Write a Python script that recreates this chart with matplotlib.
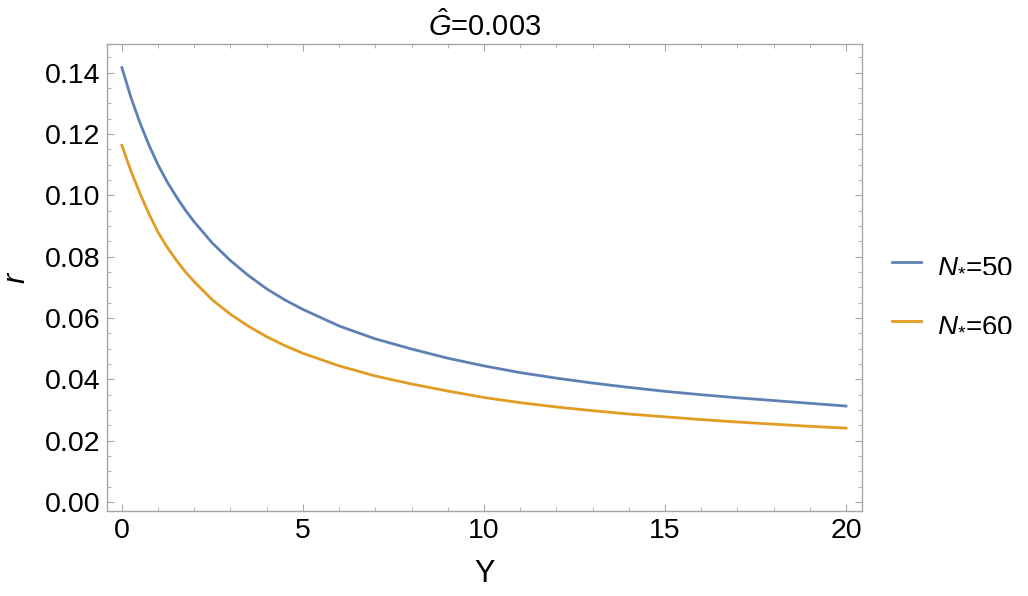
import numpy as np
import matplotlib
matplotlib.use('Agg')
import matplotlib.pyplot as plt
import matplotlib.ticker as ticker

plt.rcParams['font.family'] = ['Liberation Sans', 'DejaVu Sans']
plt.rcParams['mathtext.fontset'] = 'custom'
plt.rcParams['mathtext.rm'] = 'Liberation Sans'
plt.rcParams['mathtext.it'] = 'Liberation Sans:italic'

# values
Y = [0, 0.25, 0.5, 0.75, 1, 1.25, 1.5, 1.75, 2, 2.5, 3, 3.5, 4, 4.5, 5,
     6, 7, 8, 9, 10, 11, 12, 13, 14, 15, 16, 17, 18, 19, 20]
r_N50 = [0.1416, 0.1319, 0.1236, 0.1163, 0.1099, 0.1044, 0.0996, 0.0952,
         0.0913, 0.0844, 0.0787, 0.0738, 0.0695, 0.0659, 0.0628,
         0.0574, 0.0532, 0.0499, 0.0469, 0.0444, 0.0422, 0.0404,
         0.0388, 0.0374, 0.0361, 0.0350, 0.0340, 0.0331, 0.0322, 0.0313]
r_N60 = [0.1163, 0.1079, 0.1006, 0.0939, 0.0879, 0.0831, 0.0789, 0.0751,
         0.0718, 0.0659, 0.0612, 0.0573, 0.0539, 0.0510, 0.0485,
         0.0444, 0.0411, 0.0385, 0.0362, 0.0341, 0.0324, 0.0310,
         0.0298, 0.0287, 0.0278, 0.0269, 0.0261, 0.0254, 0.0247, 0.0241]
labels = [r'$N_{*}$=50', r'$N_{*}$=60']
title = r'$\hat{G}$=0.003'

fig = plt.figure(figsize=(10.28, 5.96), dpi=100)
ax = fig.add_axes([0.1041, 0.1426, 0.7344, 0.7836])

ax.plot(Y, r_N50, color='#5E81B5', linewidth=2, label=labels[0])
ax.plot(Y, r_N60, color='#E19C24', linewidth=2, label=labels[1])

ax.set_xlim(-0.41, 20.44)
ax.set_ylim(-0.0029, 0.1493)
ax.xaxis.set_major_locator(ticker.MultipleLocator(5))
ax.xaxis.set_minor_locator(ticker.MultipleLocator(1))
ax.yaxis.set_major_locator(ticker.MultipleLocator(0.02))
ax.yaxis.set_minor_locator(ticker.MultipleLocator(0.005))
ax.yaxis.set_major_formatter(ticker.FormatStrFormatter('%.2f'))

for s in ax.spines.values():
    s.set_color('#a6a6a6')
    s.set_linewidth(1)
ax.tick_params(which='both', direction='in', top=True, right=True,
               color='#a6a6a6', labelsize=20.5, pad=5)
ax.tick_params(which='major', length=5, width=0.8)
ax.tick_params(which='minor', length=3, width=0.6)

ax.set_xlabel('Y', fontsize=22, labelpad=11)
ax.set_ylabel('$r$', fontsize=22, labelpad=9)
ax.set_title(title, fontsize=21, pad=6)

ax.legend(loc='center left', bbox_to_anchor=(0.843, 0.506),
          bbox_transform=fig.transFigure, frameon=False, fontsize=20,
          handlelength=1.05, handletextpad=0.58, labelspacing=1.2)

fig.savefig('out.png', dpi=100)
